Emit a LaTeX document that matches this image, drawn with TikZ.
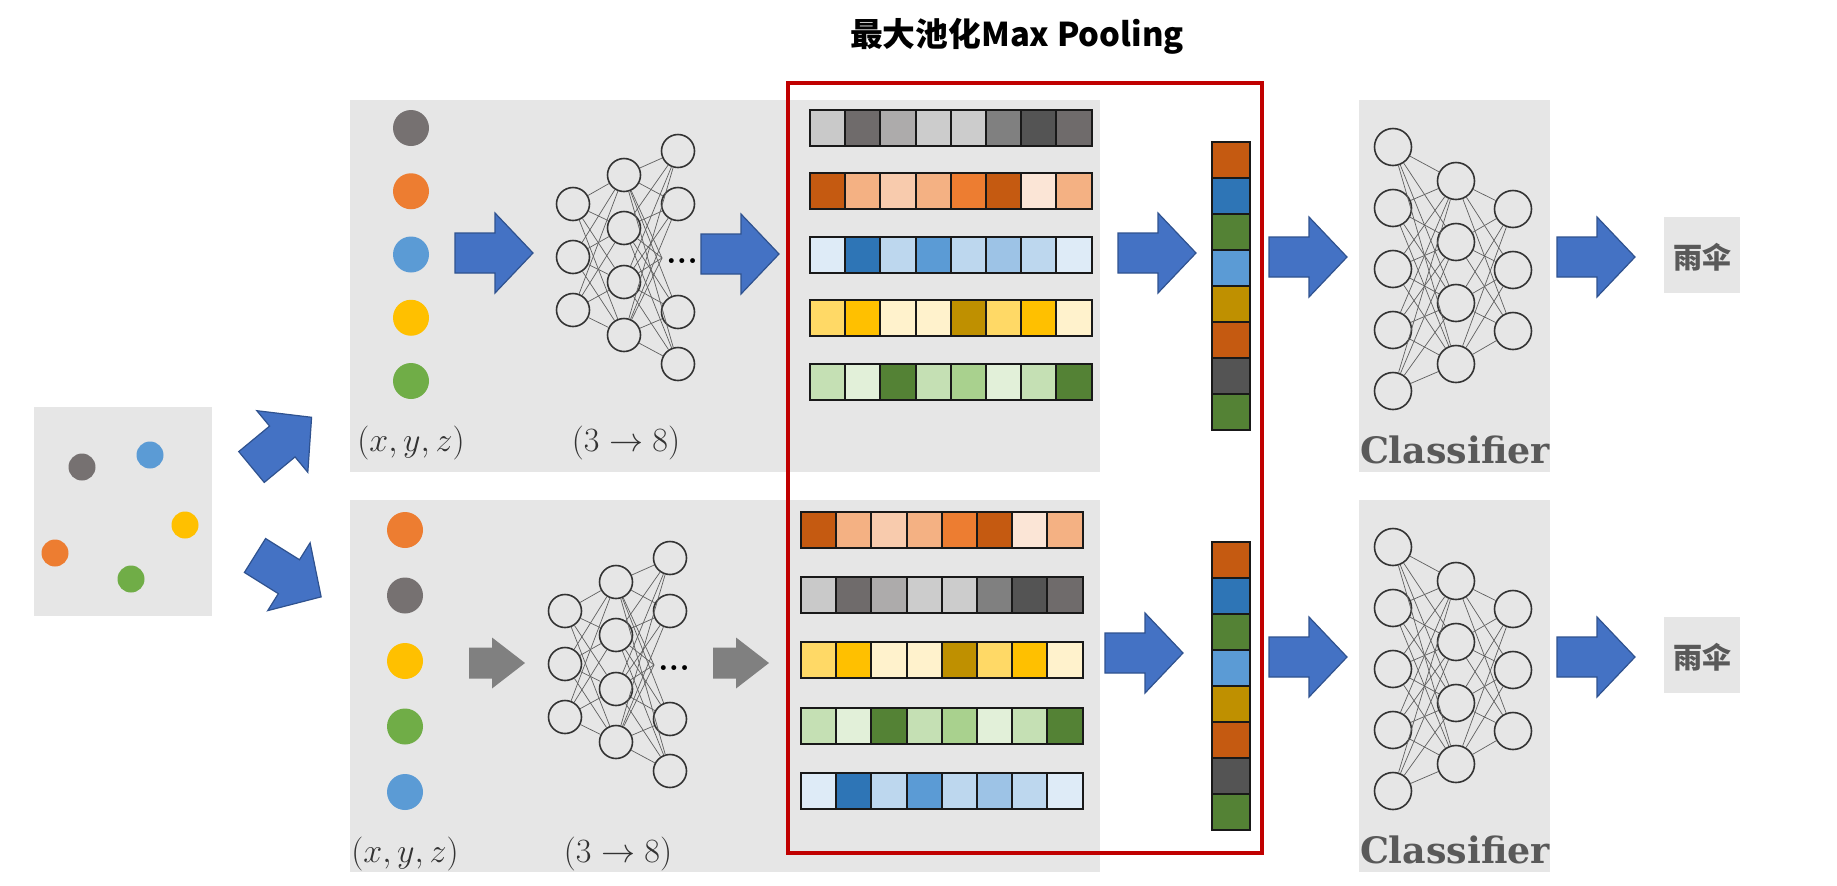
\RequirePackage{fix-cm}
\documentclass[tikz,border=0pt]{standalone}
\usepackage{fontspec}
\newfontfamily\cjkfont{Noto Sans CJK SC}
\newfontfamily\clsfont{DejaVu Serif}
\usepackage{tikz}

\definecolor{PanelGray}{HTML}{E6E6E6}
\definecolor{PoolRed}{HTML}{C00000}
\definecolor{ArrowBlue}{HTML}{4472C4}
\definecolor{ArrowEdge}{HTML}{2F528F}
\definecolor{ArrowGray}{HTML}{808080}
\definecolor{NeuronInk}{HTML}{333333}
\definecolor{SynapseGray}{HTML}{5F5F5F}
\definecolor{LabelGray}{HTML}{595959}
\definecolor{DotGray}{HTML}{767171}
\definecolor{DotOrange}{HTML}{ED7D31}
\definecolor{DotBlue}{HTML}{5B9BD5}
\definecolor{DotYellow}{HTML}{FFC000}
\definecolor{DotGreen}{HTML}{70AD47}
\definecolor{gr1}{HTML}{C9C9C9}
\definecolor{gr2}{HTML}{6F6B6B}
\definecolor{gr3}{HTML}{ADABAB}
\definecolor{gr4}{HTML}{CCCCCC}
\definecolor{gr5}{HTML}{808080}
\definecolor{gr6}{HTML}{545454}
\definecolor{or1}{HTML}{C55A11}
\definecolor{or2}{HTML}{F4B183}
\definecolor{or3}{HTML}{F8CBAD}
\definecolor{or4}{HTML}{ED7D31}
\definecolor{or5}{HTML}{FBE5D6}
\definecolor{bl1}{HTML}{DEEBF7}
\definecolor{bl2}{HTML}{2E75B6}
\definecolor{bl3}{HTML}{BDD7EE}
\definecolor{bl4}{HTML}{5B9BD5}
\definecolor{bl5}{HTML}{9DC3E6}
\definecolor{ye1}{HTML}{FFD966}
\definecolor{ye2}{HTML}{FFC000}
\definecolor{ye3}{HTML}{FFF2CC}
\definecolor{ye4}{HTML}{BF9000}
\definecolor{gn1}{HTML}{C5E0B4}
\definecolor{gn2}{HTML}{E2F0D9}
\definecolor{gn3}{HTML}{548235}
\definecolor{gn4}{HTML}{A9D18E}

\tikzset{
  panel/.style={fill=PanelGray},
  cell/.style={draw=black!90, line width=1pt},
  dotnode/.style={circle, inner sep=0pt, minimum size=18pt},
  smalldot/.style={dotnode, minimum size=13.5pt},
  neuron/.style={circle, draw=NeuronInk, line width=0.8pt, inner sep=0pt, minimum size=16.5pt},
  bigneuron/.style={neuron, minimum size=18.5pt},
  synapse/.style={draw=SynapseGray, line width=0.35pt},
  mathlabel/.style={anchor=base, text=NeuronInk, font=\fontsize{17}{20}\selectfont},
  clslabel/.style={anchor=base, text=LabelGray, font=\clsfont\bfseries\fontsize{18.2}{21}\selectfont},
  answer/.style={text=LabelGray, font=\cjkfont\bfseries\fontsize{14.5}{16}\selectfont},
  bluearrow/.pic={
    \filldraw[fill=ArrowBlue, draw=ArrowEdge, line width=0.6pt]
      (0,-20) -- (40,-20) -- (40,-40) -- (78,0) -- (40,40) -- (40,20) -- (0,20) -- cycle;
  },
  grayarrow/.pic={
    \fill[ArrowGray]
      (0,-15.5) -- (23,-15.5) -- (23,-25.5) -- (56,0) -- (23,25.5) -- (23,15.5) -- (0,15.5) -- cycle;
  },
  featnet/.pic={
    \foreach \i/\v in {1/-53,2/0,3/53}
      \node[neuron] (-a\i) at (0,\v) {};
    \foreach \i/\v in {1/-82,2/-29,3/25,4/78}
      \node[neuron] (-b\i) at (51,\v) {};
    \foreach \i/\v in {1/-106,2/-53,3/55,4/107}
      \node[neuron] (-c\i) at (105,\v) {};
    \coordinate (-hid) at (89,1);
    \node[inner sep=0pt, font=\bfseries\fontsize{17}{17}\selectfont] (-more) at (109,4) {...};
    \foreach \i in {1,2,3} \foreach \j in {1,...,4}
      \draw[synapse] (-a\i) -- (-b\j);
    \foreach \i in {1,...,4} {
      \foreach \j in {1,...,4} \draw[synapse] (-b\i) -- (-c\j);
      \draw[synapse] (-b\i) -- (-hid);
    }
  },
  clsnet/.pic={
    \foreach \i/\v in {1/-122,2/-61,3/0,4/61,5/122}
      \node[bigneuron] (-a\i) at (0,\v) {};
    \foreach \i/\v in {1/-88,2/-27,3/34,4/95}
      \node[bigneuron] (-b\i) at (63,\v) {};
    \foreach \i/\v in {1/-60,2/1,3/62}
      \node[bigneuron] (-c\i) at (120,\v) {};
    \foreach \i in {1,...,5} \foreach \j in {1,...,4}
      \draw[synapse] (-a\i) -- (-b\j);
    \foreach \i in {1,...,4} \foreach \j in {1,...,3}
      \draw[synapse] (-b\i) -- (-c\j);
  },
}

\newcommand\featrow[3]{%
  \foreach \col [count=\k from 0] in {#3}
    \filldraw[cell, fill=\col] ({#1+35.2*\k},#2) rectangle ++(35.2,35.5);
}
\newcommand\poolcol[2]{%
  \foreach \col [count=\k from 0] in {or1,bl2,gn3,bl4,ye4,or1,gr6,gn3}
    \filldraw[cell, fill=\col] (#1,{#2+36*\k}) rectangle ++(38,36);
}

\begin{document}
\begin{tikzpicture}[x=0.5pt, y=-0.5pt]
\useasboundingbox (0,0) rectangle (1837,885);

\fill[panel] (34,407) rectangle (212,616);
\fill[panel] (350,100) rectangle (1100,472);
\fill[panel] (350,500) rectangle (1100,872);
\fill[panel] (1359,100) rectangle (1550,472);
\fill[panel] (1359,500) rectangle (1550,872);
\fill[panel] (1664,217) rectangle (1740,293);
\fill[panel] (1664,617) rectangle (1740,693);

\foreach \n/\col/\px/\py in {cg/DotGray/82/467, cb/DotBlue/150/455, cy/DotYellow/185/525,
    co/DotOrange/55/553, cn/DotGreen/131/579}
  \node[smalldot, fill=\col] (\n) at (\px,\py) {};

\pic[rotate=39.6] (upA) at (251.5,467) {bluearrow};
\pic[rotate=-32] (downA) at (255,555.5) {bluearrow};

\foreach \col [count=\k] in {DotGray,DotOrange,DotBlue,DotYellow,DotGreen}
  \node[dotnode, fill=\col] (tp\k) at (411,{128+63.25*(\k-1)}) {};
\foreach \col [count=\k] in {DotOrange,DotGray,DotYellow,DotGreen,DotBlue}
  \node[dotnode, fill=\col] (bp\k) at (405,{530+65.5*(\k-1)}) {};

\node[mathlabel] (tpxyz) at (411,451) {$(x, y, z)$};
\node[mathlabel] (tpmap) at (626,451) {$(3 \rightarrow 8)$};
\node[mathlabel] (bpxyz) at (405,862) {$(x, y, z)$};
\node[mathlabel] (bpmap) at (618,862) {$(3 \rightarrow 8)$};

\pic (topnet) at (573,257) {featnet};
\pic (botnet) at (565,664) {featnet};

\pic (tA1) at (455,253) {bluearrow};
\pic (tA2) at (701,254) {bluearrow};
\pic (bA1) at (469,663) {grayarrow};
\pic (bA2) at (713,663) {grayarrow};

\featrow{810}{110}{gr1,gr2,gr3,gr4,gr4,gr5,gr6,gr2}
\featrow{810}{173}{or1,or2,or3,or2,or4,or1,or5,or2}
\featrow{810}{237}{bl1,bl2,bl3,bl4,bl3,bl5,bl3,bl1}
\featrow{810}{300}{ye1,ye2,ye3,ye3,ye4,ye1,ye2,ye3}
\featrow{810}{364}{gn1,gn2,gn3,gn1,gn4,gn2,gn1,gn3}

\featrow{801}{512}{or1,or2,or3,or2,or4,or1,or5,or2}
\featrow{801}{577}{gr1,gr2,gr3,gr4,gr4,gr5,gr6,gr2}
\featrow{801}{642}{ye1,ye2,ye3,ye3,ye4,ye1,ye2,ye3}
\featrow{801}{708}{gn1,gn2,gn3,gn1,gn4,gn2,gn1,gn3}
\featrow{801}{773}{bl1,bl2,bl3,bl4,bl3,bl5,bl3,bl1}

\pic (tA3) at (1118,253) {bluearrow};
\pic (bA3) at (1105,653) {bluearrow};
\poolcol{1212}{142}
\poolcol{1212}{542}

\draw[PoolRed, line width=2pt] (788,83) rectangle (1262,853);
\node[anchor=base, font=\cjkfont\bfseries\fontsize{16.4}{19}\selectfont] (title) at (1017,46)
  {最大池化Max Pooling};

\pic (tA4) at (1269,257) {bluearrow};
\pic (bA4) at (1269,657) {bluearrow};
\pic (topcls) at (1393,269) {clsnet};
\pic (botcls) at (1393,669) {clsnet};
\node[clslabel] (topclsname) at (1455,463) {Classifier};
\node[clslabel] (botclsname) at (1455,863) {Classifier};

\pic (tA5) at (1557,257) {bluearrow};
\pic (bA5) at (1557,657) {bluearrow};
\node[answer] (topans) at (1702,257) {雨伞};
\node[answer] (botans) at (1702,657) {雨伞};
\end{tikzpicture}
\end{document}
